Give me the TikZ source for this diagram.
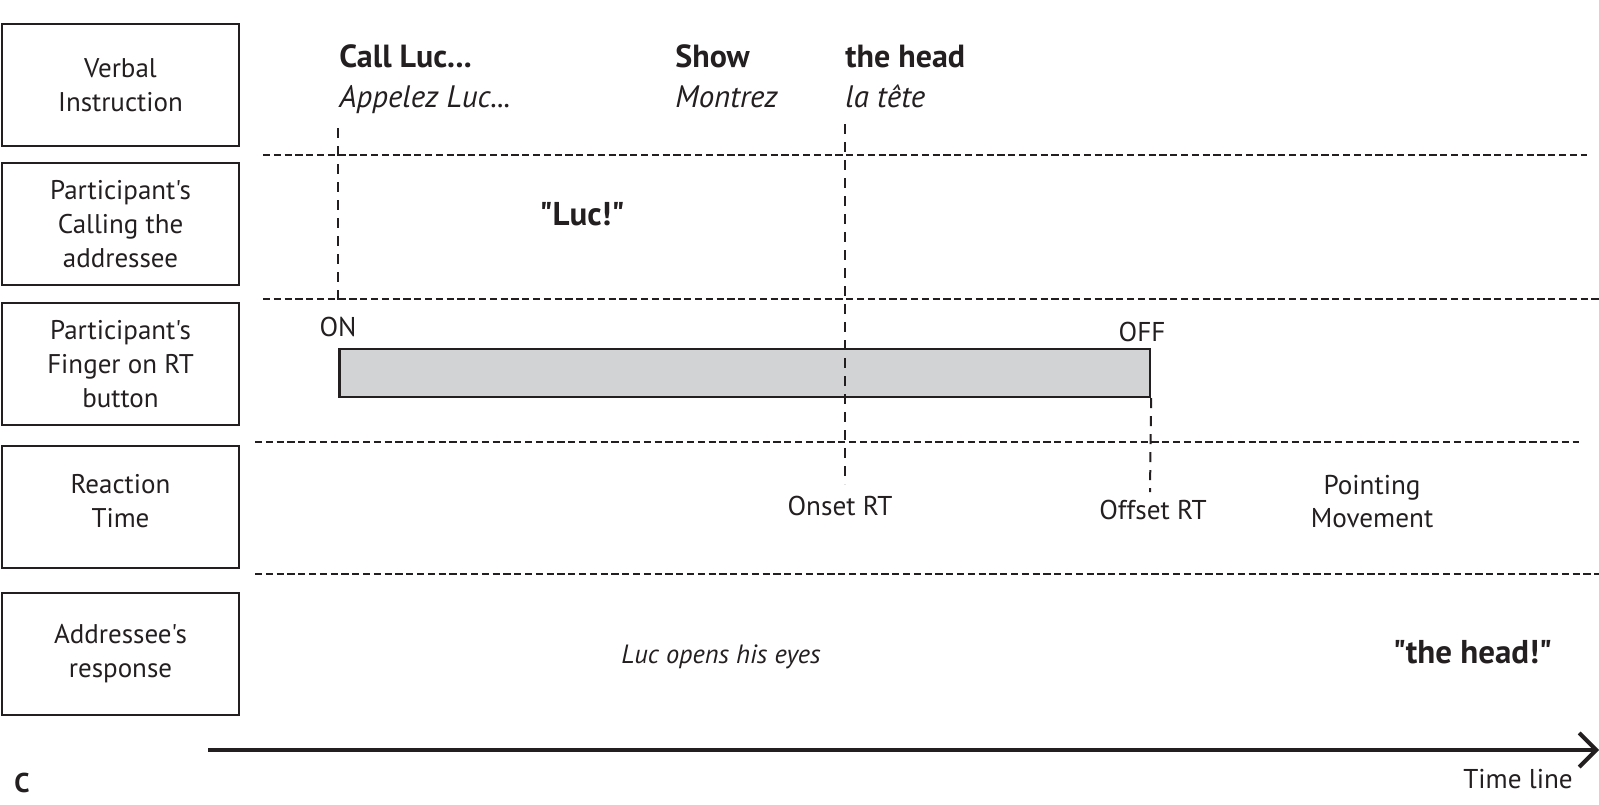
\documentclass[tikz,border=0pt]{standalone}
\usepackage{fontspec}
\setmainfont{PT Sans}[Ligatures=TeXOff]
\usetikzlibrary{arrows.meta}
\definecolor{ink}{HTML}{231F20}
\definecolor{barfill}{HTML}{D1D3D4}
\begin{document}
\begin{tikzpicture}[x=0.5pt,y=-0.5pt,
  rowbox/.style={draw=ink, line width=1.2pt, minimum width=118.5pt,
    minimum height=61pt, inner sep=0pt, align=center, text=ink,
    font=\fontsize{13.5pt}{17pt}\selectfont},
  rowsep/.style={draw=ink, line width=0.6pt, dash pattern=on 3.6pt off 1.8pt},
  marker/.style={draw=ink, line width=1pt, dash pattern=on 5pt off 4pt},
  cue/.style={inner sep=0pt, anchor=base west, text=ink,
    font=\fontsize{16pt}{18pt}\selectfont\bfseries},
  trans/.style={inner sep=0pt, anchor=base west, text=ink,
    font=\fontsize{15.5pt}{18pt}\selectfont\itshape},
  note/.style={inner sep=0pt, anchor=base, text=ink,
    font=\fontsize{13.6pt}{16.5pt}\selectfont},
  speech/.style={inner sep=0pt, anchor=base, text=ink,
    font=\fontsize{16.5pt}{18pt}\selectfont\bfseries},
  presson/.style={draw=ink, line width=1.1pt, fill=barfill, inner sep=0pt,
    minimum width=405.25pt, minimum height=24pt}
]
\useasboundingbox (0,0) rectangle (1599,804);

% row headings
\node[rowbox] (verbal)   at (120.5,85)  {Verbal\\Instruction};
\node[rowbox] (calling)  at (120.5,224) {Participant's\\Calling the\\addressee};
\node[rowbox] (finger)   at (120.5,364) {Participant's\\Finger on RT\\button};
\node[rowbox] (reaction) at (120.5,507) {};
\node[rowbox, draw=none, fill=none, minimum height=0pt] (reactiontext) at (120.5,501) {Reaction\\Time};
\node[rowbox] (response) at (120.5,654) {Addressee's\\response};

% row separators
\coordinate (s1a) at (263,155);  \coordinate (s1b) at (1587,155);
\coordinate (s2a) at (263,299);  \coordinate (s2b) at (1599,299);
\coordinate (s3a) at (255,442);  \coordinate (s3b) at (1579,442);
\coordinate (s4a) at (255,574);  \coordinate (s4b) at (1599,574);
\draw[rowsep] (s1a) -- (s1b);
\draw[rowsep] (s2a) -- (s2b);
\draw[rowsep] (s3a) -- (s3b);
\draw[rowsep] (s4a) -- (s4b);

% verbal instruction
\node[cue]   (call)    at (339,67)  {Call Luc...};
\node[trans] (appelez) at (339,107) {Appelez Luc...};
\node[cue]   (show)    at (675,67)  {Show};
\node[trans] (montrez) at (675,107) {Montrez};
\node[cue]   (head)    at (845,67)  {the head};
\node[trans] (tete)    at (845,107) {la tête};

% participant calling
\node[speech] (luc) at (582,225) {"Luc!"};

% button press
\node[presson] (press) at (744.75,373) {};
\node[note] (on)  at (338,336)  {ON};
\node[note] (off) at (1142,341) {OFF};

% time markers
\coordinate (m1a) at (338,128);  \coordinate (m1b) at (338,302);
\coordinate (m2a) at (845,124);  \coordinate (m2b) at (845,484);
\coordinate (m3b) at (1150,492);
\draw[marker] (m1a) -- (m1b);
\draw[marker] (m2a) -- (m2b);
\draw[marker] (press.south east) -- (m3b);

% reaction time
\node[note] (onset)  at (840,515)  {Onset RT};
\node[note] (offset) at (1153,519) {Offset RT};
\node[note, anchor=north, align=center] (pointing) at (1372,475) {Pointing\\Movement};

% addressee response
\node[note, font=\fontsize{13.2pt}{16.5pt}\selectfont\itshape] (eyes) at (721,663) {Luc opens his eyes};
\node[speech] (answer) at (1472.5,663) {"the head!"};

% time axis
\coordinate (t0) at (208,750);
\coordinate (t1) at (1599,750);
\draw[draw=ink, line width=2pt, -{Straight Barb[length=8.5pt,width=17pt]}] (t0) -- (t1);
\node[note] (timeline) at (1518,788) {Time line};
\node[note, font=\fontsize{13.6pt}{16.5pt}\selectfont\bfseries] (panel) at (22,792) {C};
\end{tikzpicture}
\end{document}
